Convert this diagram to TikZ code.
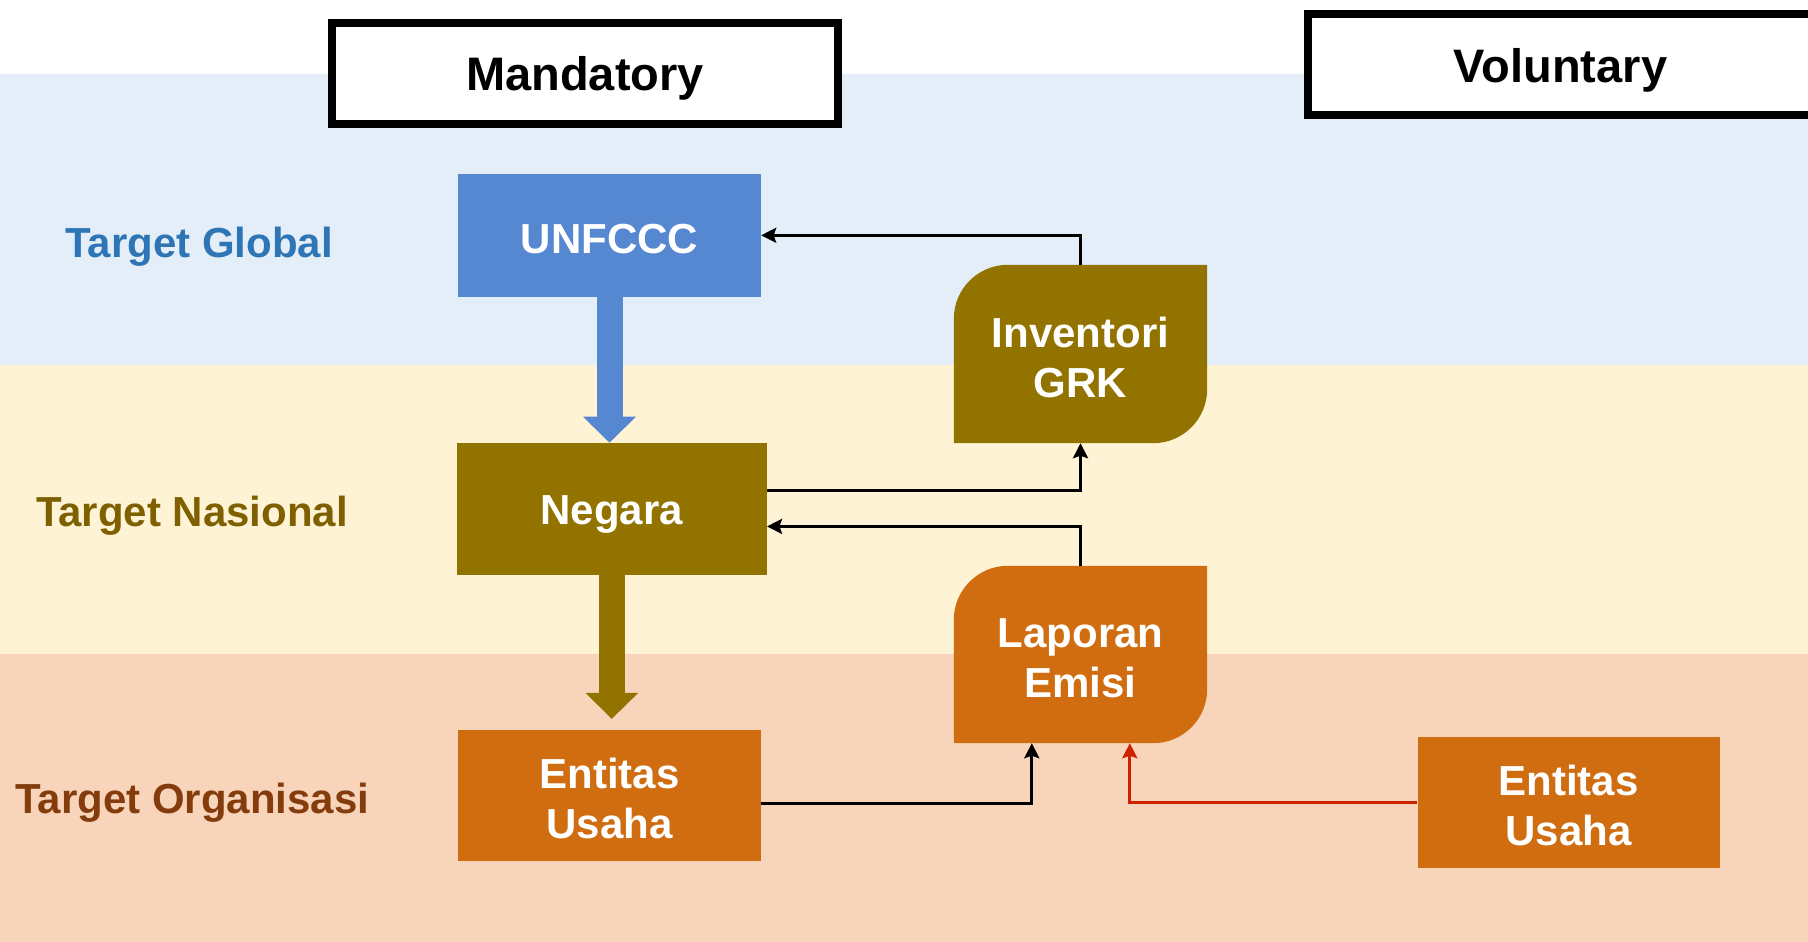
\documentclass[tikz,border=0pt]{standalone}
\usepackage{fontspec}
\setmainfont{Liberation Sans}
\usetikzlibrary{arrows.meta,calc}
\definecolor{bandblue}{RGB}{227,238,248}
\definecolor{bandyellow}{RGB}{255,243,214}
\definecolor{bandpeach}{RGB}{248,212,186}
\definecolor{boxblue}{RGB}{85,136,208}
\definecolor{boxolive}{RGB}{147,115,0}
\definecolor{boxorange}{RGB}{208,109,17}
\definecolor{txtblue}{RGB}{46,117,182}
\definecolor{txtolive}{RGB}{127,96,0}
\definecolor{txtbrown}{RGB}{132,60,12}
\definecolor{linered}{RGB}{204,34,0}
\newcommand{\twolines}[2]{\raisebox{-8pt}[\height][\depth]{\begin{tabular}{@{}c@{}}#1\\#2\end{tabular}}}
\pgfdeclarelayer{bg}
\pgfdeclarelayer{mid}
\pgfsetlayers{bg,mid,main}
\begin{document}
\begin{tikzpicture}[x=1pt,y=1pt,
  boxtext/.style={font=\fontsize{42}{50}\selectfont\bfseries, text=white, align=center, inner sep=0pt},
  header/.style={draw=black, line width=8pt, fill=white, inner sep=0pt, minimum width=506pt, minimum height=101pt, font=\fontsize{47}{56}\selectfont\bfseries},
  rowlabel/.style={font=\fontsize{42}{50}\selectfont\bfseries, inner sep=0pt},
  thin/.style={line width=3pt, -{Stealth[length=15pt,width=15pt,inset=2.5pt]}},
  bigarrow/.style={line width=26pt, -{Triangle[length=26pt,width=53pt,line width=0pt]}}
]
\useasboundingbox (0,0) rectangle (1808,-942);
\clip (0,0) rectangle (1808,-942);
\begin{pgfonlayer}{bg}
  \fill[white] (0,0) rectangle (1808,-74);
  \fill[bandblue] (0,-74) rectangle (1808,-365);
  \fill[bandyellow] (0,-365) rectangle (1808,-654);
  \fill[bandpeach] (0,-654) rectangle (1808,-942);
\end{pgfonlayer}

% headers
\node[header] (mand) at (585,-73.3) {\raisebox{-5pt}[\height][\depth]{Mandatory}};
\node[header] (vol) at (1560.5,-64.5) {\raisebox{-6pt}[\height][\depth]{Voluntary}};

% row labels
\node[rowlabel, text=txtblue] (lg) at (199,-246.5) {Target Global};
\node[rowlabel, text=txtolive] (ln) at (192,-515.5) {Target Nasional};
\node[rowlabel, text=txtbrown] (lo) at (192.4,-802.5) {Target Organisasi};

% boxes
\node[boxtext, fill=boxblue, minimum width=303pt, minimum height=123pt] (unf) at (609.5,-235.3) {\raisebox{-4pt}[\height][\depth]{UNFCCC}};
\node[boxtext, fill=boxolive, minimum width=310pt, minimum height=132pt] (neg) at (611.8,-508.9) {\raisebox{-6pt}[\height][\depth]{Negara}};
\node[boxtext, fill=boxorange, minimum width=303pt, minimum height=131pt] (ent1) at (609.5,-795.5) {\twolines{Entitas}{Usaha}};
\node[boxtext, fill=boxorange, minimum width=302pt, minimum height=131pt] (ent2) at (1568.5,-802.4) {\twolines{Entitas}{Usaha}};
\node[boxtext, minimum width=253pt, minimum height=178pt] (inv) at (1080.5,-354) {\twolines{Inventori}{GRK}};
\node[boxtext, minimum width=253pt, minimum height=177pt] (lap) at (1080.5,-654.5) {\twolines{Laporan}{Emisi}};

\begin{pgfonlayer}{mid}
  \fill[boxolive] (inv.south west) -- ([yshift=-54pt]inv.north west)
     .. controls +(0,29.8pt) and +(-29.8pt,0) .. ([xshift=54pt]inv.north west)
     -- (inv.north east) -- ([yshift=54pt]inv.south east)
     .. controls +(0,-29.8pt) and +(29.8pt,0) .. ([xshift=-54pt]inv.south east) -- cycle;
  \fill[boxorange] (lap.south west) -- ([yshift=-54pt]lap.north west)
     .. controls +(0,29.8pt) and +(-29.8pt,0) .. ([xshift=54pt]lap.north west)
     -- (lap.north east) -- ([yshift=54pt]lap.south east)
     .. controls +(0,-29.8pt) and +(29.8pt,0) .. ([xshift=-54pt]lap.south east) -- cycle;
\end{pgfonlayer}

% big arrows
\draw[bigarrow, boxblue] (unf.south) -- (unf.south |- neg.north);
\draw[bigarrow, boxolive, shorten >=11pt] (neg.south) -- (neg.south |- ent1.north);

% thin connectors
\draw[thin] (inv.north) |- (unf.east);
\draw[thin] ([yshift=18pt]neg.east) -| (inv.south);
\draw[thin] (lap.north) |- ([yshift=-17.5pt]neg.east);
\draw[thin] ([yshift=-7.5pt]ent1.east) -| ([xshift=78pt]lap.south west);
\draw[thin, linered] (ent2.west) -| ([xshift=176pt]lap.south west);
\end{tikzpicture}
\end{document}
